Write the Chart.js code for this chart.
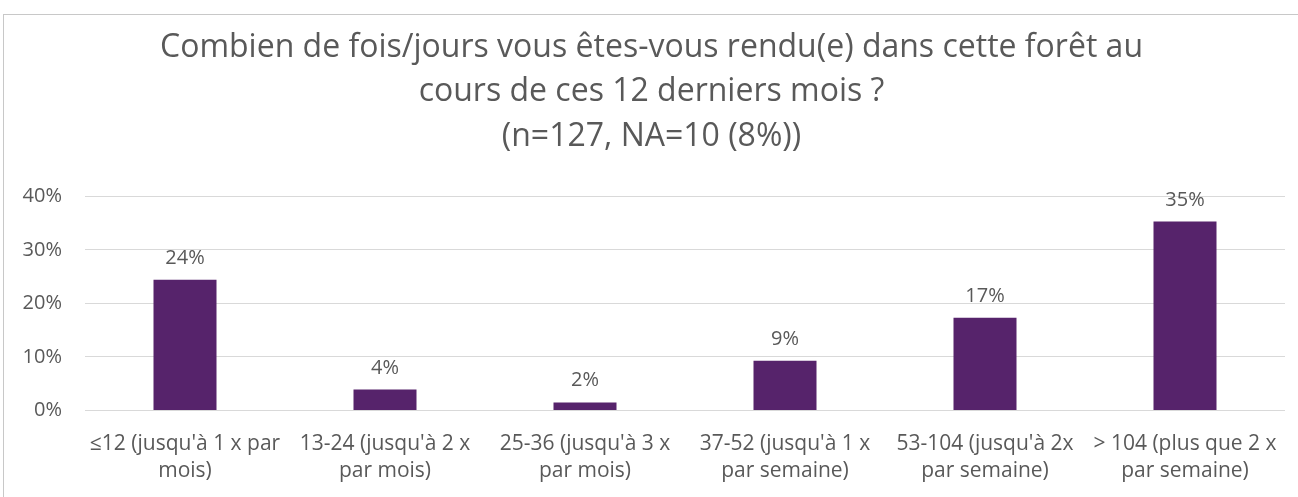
<!DOCTYPE html>
<html>
<head>
<meta charset="utf-8">
<script src="https://cdn.jsdelivr.net/npm/chart.js@4"></script>
<style>
  body { margin: 0; background: #fff; }
  #frame {
    position: absolute; left: 3px; top: 14px; width: 1300px; height: 490px;
    border-left: 1px solid #c8c8c8; border-top: 1px solid #c8c8c8;
  }
  #wrap { position: absolute; left: 4px; top: 15px; width: 1294px; height: 482px; }
</style>
</head>
<body>
<div id="frame"></div>
<div id="wrap"><canvas id="graph1"></canvas></div>
<script>
// categories (multi-line labels) and values in %
var categories = [
    ["\u226412 (jusqu'\u00e0 1 x par", "mois)"],
    ["13-24 (jusqu'\u00e0 2 x", "par mois)"],
    ["25-36 (jusqu'\u00e0 3 x", "par mois)"],
    ["37-52 (jusqu'\u00e0 1 x", "par semaine)"],
    ["53-104 (jusqu'\u00e0 2x", "par semaine)"],
    ["> 104 (plus que 2 x", "par semaine)"]
];
var valeurs = [24.4, 3.9, 1.5, 9.3, 17.3, 35.3];
var titre = [
    "Combien de fois/jours vous \u00eates-vous rendu(e) dans cette for\u00eat au",
    "cours de ces 12 derniers mois ?",
    "(n=127, NA=10 (8%))"
];

var police = "'Open Sans', sans-serif";

// write the value above each bar
var etiquettes = {
    id: 'etiquettes',
    afterDatasetsDraw: function(chart) {
        var ctx = chart.ctx;
        var meta = chart.getDatasetMeta(0);
        ctx.save();
        ctx.font = "20px " + police;
        ctx.fillStyle = "#595959";
        ctx.textAlign = "center";
        ctx.textBaseline = "alphabetic";
        meta.data.forEach(function(bar, i) {
            ctx.fillText(Math.round(valeurs[i]) + "%", bar.x, bar.y - 16);
        });
        ctx.restore();
    }
};

var ctx = document.getElementById('graph1').getContext('2d')

var data = {
    labels: categories,
    datasets: [
        {
            label: "Fr\u00e9quentation",
            backgroundColor: '#56236b',
            categoryPercentage: 1,
            barPercentage: 0.315,
            data: valeurs
        }
    ]
}

var options = {
    responsive: true,
    maintainAspectRatio: false,
    animation: false,
    layout: { padding: { left: 14, right: 13, top: 10, bottom: -8 } },
    plugins: {
        legend: { display: false },
        tooltip: { enabled: false },
        title: {
            display: true,
            text: titre,
            color: '#595959',
            font: { family: police, size: 32, weight: 'normal', lineHeight: 1.4 },
            padding: { top: 0, bottom: 37 }
        }
    },
    scales: {
        x: {
            grid: { display: false, drawTicks: false },
            border: { display: false },
            ticks: {
                color: '#595959',
                maxRotation: 0,
                autoSkip: false,
                padding: 20,
                font: { family: police, size: 21, lineHeight: 1.3 }
            }
        },
        y: {
            min: 0,
            max: 40,
            grid: { color: '#d9d9d9', drawTicks: false },
            border: { display: false },
            // the axis came out wider than its labels, keep it tight
            afterFit: function(scale) {
                scale.width = 67;
            },
            ticks: {
                stepSize: 10,
                color: '#595959',
                padding: 23,
                font: { family: police, size: 20 },
                callback: function(v) { return v + "%"; }
            }
        }
    }
}

var config = {
    type: 'bar',
    data: data,
    options: options,
    plugins: [etiquettes]
}

var graph1 = new Chart(ctx, config)
</script>
</body>
</html>
